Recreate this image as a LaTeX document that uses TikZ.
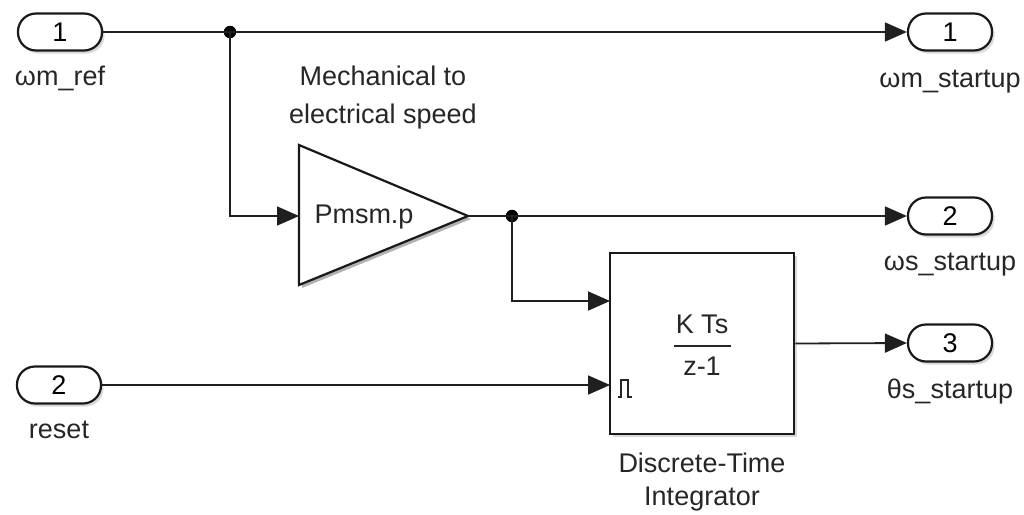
\documentclass[tikz,border=0pt]{standalone}
\usepackage{fontspec}
\setmainfont{Liberation Sans}
\usetikzlibrary{arrows.meta,shadows}
\begin{document}
\begin{tikzpicture}[x=1pt,y=-1pt,
  font=\fontsize{27}{32}\selectfont,
  wire/.style={line width=1.8pt, draw=black!88},
  sig/.style={wire,-{Triangle[length=22pt,width=19pt]}},
  port/.style={draw=black!90, line width=2.2pt, rounded corners=18pt, minimum width=84pt,
    minimum height=37pt, inner sep=0pt, fill=white,
    drop shadow={opacity=0.3,shadow xshift=2.5pt,shadow yshift=-3pt}},
  blockbox/.style={draw=black!90, line width=2.6pt, fill=white, inner sep=0pt,
    drop shadow={opacity=0.3,shadow xshift=3pt,shadow yshift=-3pt}},
  lbl/.style={text=black!85, inner sep=0pt, anchor=base},
  dot/.style={circle, fill=black, inner sep=0pt, minimum size=12.5pt},
]
\useasboundingbox (0,0) rectangle (1024,514);

% ports
\node[port] (in1) at (60,32) {1};
\node[lbl] (in1l) at (60,85) {ωm\_ref};
\node[port] (in2) at (59,385) {2};
\node[lbl] (in2l) at (59,438) {reset};
\node[port] (out1) at (950,32) {1};
\node[lbl] (out1l) at (950,87) {ωm\_startup};
\node[port] (out2) at (950,216) {2};
\node[lbl] (out2l) at (950,270) {ωs\_startup};
\node[port] (out3) at (950,343) {3};
\node[lbl] (out3l) at (950,398) {θs\_startup};

% gain triangle
\coordinate (g1) at (299,145);
\coordinate (g2) at (299,285);
\coordinate (gtip) at (468,216);
\coordinate (gin) at (299,216);
\draw[draw=black!90, line width=2.2pt, fill=white, line join=miter,
  preaction={fill=black, opacity=0.3, transform canvas={xshift=3pt,yshift=-3pt}}]
  (g1) -- (gtip) -- (g2) -- cycle;
\node[inner sep=0pt, text=black!85] (gtext) at (364,217) {Pmsm.p};
\node[lbl] (gl1) at (383,85) {Mechanical to};
\node[lbl] (gl2) at (383,123) {electrical speed};

% integrator
\node[blockbox, minimum width=184pt, minimum height=181pt] (int) at (702,343.5) {};
\coordinate (intin1) at (610,301);
\coordinate (intin2) at (610,385);
\node[lbl] (kts) at (702,333) {K Ts};
\node[lbl] (zm1) at (702,375) {z-1};
\draw[line width=1.8pt, draw=black!85] (674,346) -- (731,346);
\draw[line width=1.6pt, draw=black!85] (618,397) -- (621,397) -- (621,380) -- (628,380) -- (628,397) -- (632,397);
\node[lbl] (il1) at (702,472) {Discrete-Time};
\node[lbl] (il2) at (702,505) {Integrator};

% junctions
\node[dot] (j1) at (230,32) {};
\node[dot] (j2) at (512,216) {};

% wires
\draw[wire] (in1.east) -- (j1.center);
\draw[sig] (j1.center) -- (out1.west);
\draw[sig] (j1.center) |- (gin);
\draw[wire] (gtip) -- (j2.center);
\draw[sig] (j2.center) -- (out2.west);
\draw[sig] (j2.center) |- (intin1);
\draw[sig] (in2.east) -- (intin2);
\draw[sig] (int.east) -- (out3.west);
\end{tikzpicture}
\end{document}
